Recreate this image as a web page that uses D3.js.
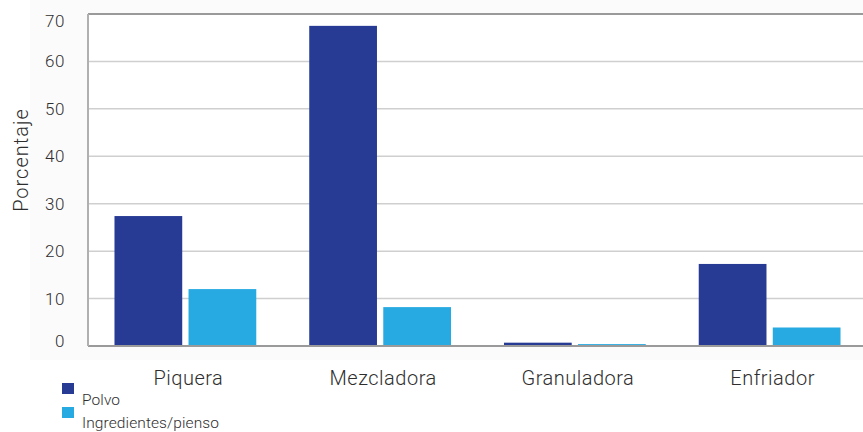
<!DOCTYPE html>
<html>
<head>
<meta charset="utf-8">
<script src="https://cdn.jsdelivr.net/npm/d3@7"></script>
<style>
  html, body { margin: 0; padding: 0; background: #fff; }
  svg { display: block; }
  text { font-family: Roboto, "Open Sans", sans-serif; font-weight: 300; fill: #2e2e2e; }
</style>
</head>
<body>
<svg id="chart" width="863" height="432"></svg>
<script>
// Categories, series and values
const categories = ["Piquera", "Mezcladora", "Granuladora", "Enfriador"];
const seriesNames = ["Polvo", "Ingredientes/pienso"];
const polvo = [27.4, 67.5, 0.7, 17.3];
const ingredientes = [12.0, 8.2, 0.4, 3.9];
const yTicks = [0, 10, 20, 30, 40, 50, 60, 70];
const colors = ["#283b94", "#27a9e1"];

const W = 863, H = 432;
const margin = { left: 88, right: -4, top: 14, bottom: 86 };
const svg = d3.select("#chart");

// faint panel behind the plot and its axis labels
svg.append("rect")
  .attr("x", 30).attr("y", 0)
  .attr("width", W - 30).attr("height", 360)
  .attr("fill", "#fcfbfc");

const y = d3.scaleLinear().domain([0, 70]).range([H - margin.bottom, margin.top]);
const x0 = d3.scaleBand().domain(categories)
  .range([margin.left, W - margin.right])
  .paddingInner(0.272).paddingOuter(0.136);
const x1 = d3.scaleBand().domain(seriesNames)
  .range([0, x0.bandwidth()]).paddingInner(0.085);

const plot = svg.append("g");
plot.append("rect")
  .attr("x", margin.left).attr("y", margin.top)
  .attr("width", W - margin.left).attr("height", y(0) - margin.top)
  .attr("fill", "#fff");

// horizontal gridlines
plot.selectAll("line.grid")
  .data(yTicks.filter(d => d !== 0 && d !== 70))
  .join("line")
  .attr("class", "grid")
  .attr("x1", margin.left).attr("x2", W)
  .attr("y1", d => y(d)).attr("y2", d => y(d))
  .attr("stroke", "#cfcfcf").attr("stroke-width", 1.5);

// bars
const data = categories.map((c, i) => ({ cat: c, vals: [polvo[i], ingredientes[i]] }));
const groups = plot.selectAll("g.cat").data(data).join("g")
  .attr("class", "cat")
  .attr("transform", d => `translate(${x0(d.cat)},0)`);
groups.selectAll("rect")
  .data(d => d.vals.map((v, j) => ({ s: seriesNames[j], v, j })))
  .join("rect")
  .attr("x", d => x1(d.s))
  .attr("width", x1.bandwidth())
  .attr("y", d => y(d.v))
  .attr("height", d => y(0) - y(d.v))
  .attr("fill", d => colors[d.j]);

// frame: top line, left line, baseline
plot.append("line")
  .attr("x1", margin.left).attr("x2", W)
  .attr("y1", y(70)).attr("y2", y(70))
  .attr("stroke", "#9a9a9a").attr("stroke-width", 2);
plot.append("line")
  .attr("x1", margin.left).attr("x2", W)
  .attr("y1", y(0)).attr("y2", y(0))
  .attr("stroke", "#9a9a9a").attr("stroke-width", 2);
plot.append("line")
  .attr("x1", margin.left).attr("x2", margin.left)
  .attr("y1", y(70)).attr("y2", y(0))
  .attr("stroke", "#b0b0b0").attr("stroke-width", 2);

// y axis labels
const yAxis = d3.axisLeft(y).tickValues(yTicks).tickSize(0).tickPadding(23);
const ya = svg.append("g").attr("transform", `translate(${margin.left},0)`).call(yAxis);
ya.select(".domain").remove();
ya.selectAll("text")
  .style("font-size", "17px")
  .style("font-family", "Roboto, sans-serif")
  .style("font-weight", "300")
  .style("letter-spacing", "0.6px")
  .attr("fill", "#2e2e2e")
  .attr("dy", d => d === 70 ? "0.76em" : d === 0 ? "0.05em" : "0.32em");

svg.append("text")
  .attr("transform", `translate(28,160) rotate(-90)`)
  .attr("text-anchor", "middle")
  .style("font-size", "20px")
  .style("letter-spacing", "1px")
  .text("Porcentaje");

// category labels
const xAxis = d3.axisBottom(x0).tickSize(0).tickPadding(25);
const xa = svg.append("g").attr("transform", `translate(3,${y(0)})`).call(xAxis);
xa.select(".domain").remove();
xa.selectAll("text")
  .style("font-size", "20px")
  .style("font-family", "Roboto, sans-serif")
  .style("font-weight", "300")
  .style("letter-spacing", "0.5px")
  .attr("fill", "#2e2e2e");

// legend
const legend = svg.append("g");
seriesNames.forEach((s, i) => {
  legend.append("rect")
    .attr("x", 62).attr("y", 383 + i * 24)
    .attr("width", 12).attr("height", 11)
    .attr("fill", colors[i]);
  legend.append("text")
    .attr("x", 82).attr("y", 405 + i * 23)
    .style("font-size", "15.5px")
    .style("letter-spacing", "0.1px")
    .text(s);
});
</script>
</body>
</html>
